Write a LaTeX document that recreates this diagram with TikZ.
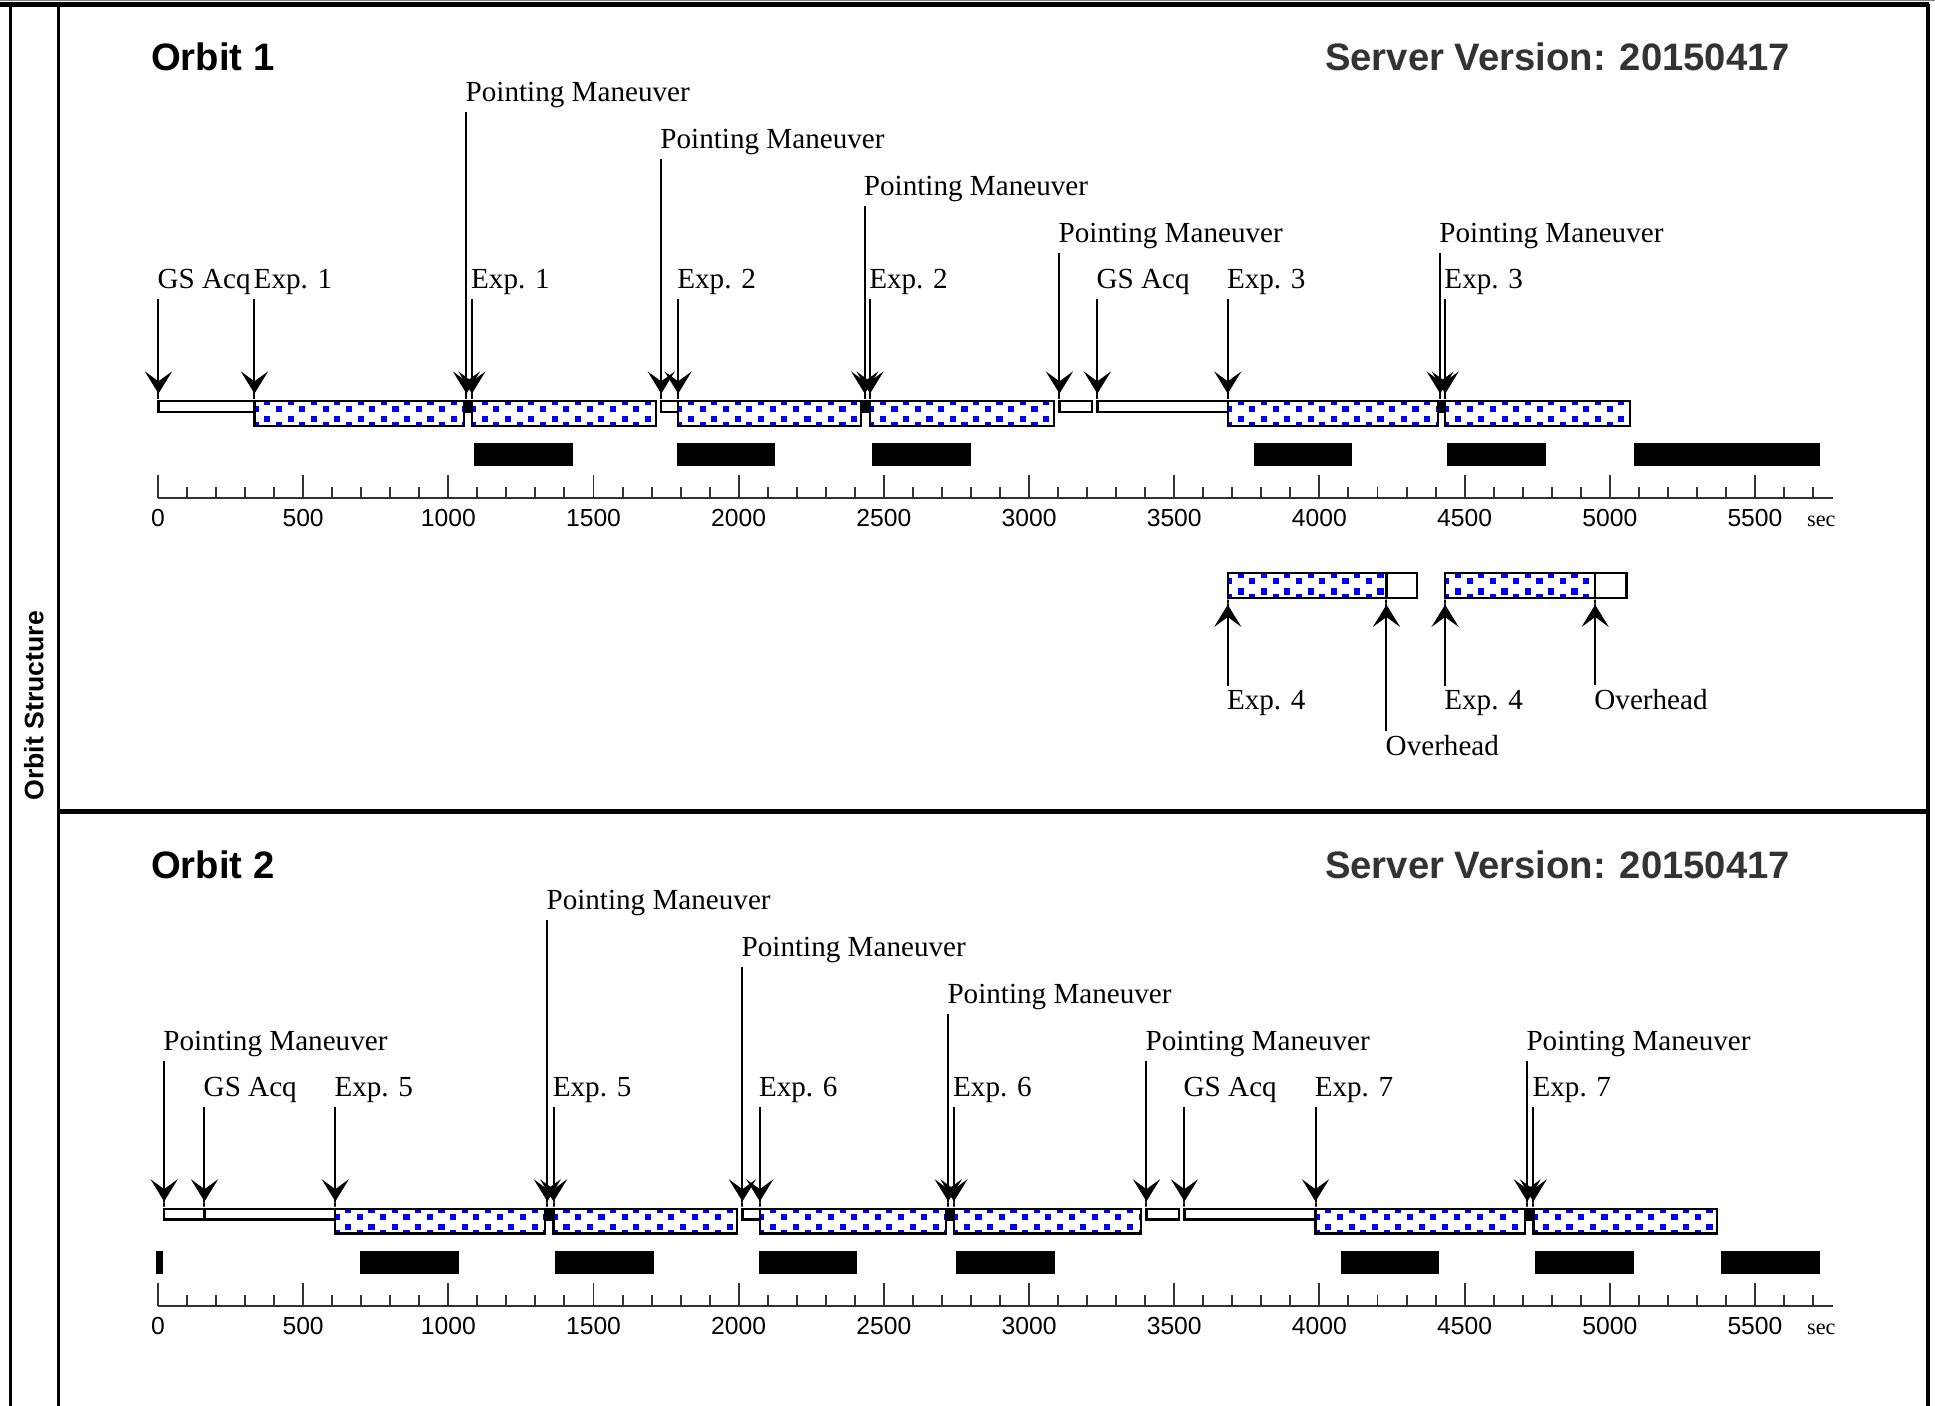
\documentclass[tikz,border=0pt]{standalone}
\usepackage{fontspec}
\setmainfont{Liberation Serif}
\setsansfont{Liberation Sans}
\usepackage{xcolor}
\usepackage{tikz}
\usetikzlibrary{arrows.meta}
\definecolor{dotblue}{HTML}{0000FF}
\definecolor{axisgray}{HTML}{333333}
\definecolor{versiongray}{HTML}{333333}

% event whose label stands above the bars
\newcommand{\evtdown}[4]{
    \node[evtlabel] (#1) at (#2-1,#3) {#4};
    \coordinate (#1-tip) at (#2,324);
    \draw[evtarrow] (#1.south west -| #1-tip) -- (#1-tip);
}
% event whose label stands below the boxes
\newcommand{\evtup}[4]{
    \node[evtlabel] (#1) at (#2-1,#3) {#4};
    \coordinate (#1-tip) at (#2,485);
    \draw[evtarrow] (#1.north west -| #1-tip) -- (#1-tip);
}
\newcommand{\expbox}[3]{
    \begin{scope}
        \clip (#1,#3) rectangle (#2,#3+20);
        \fill[white] (#1,#3) rectangle (#2,#3+20);
        \foreach \yo/\xo in {1/10.4,6.3/0.95,14.8/10.4,19.7/0.95}
            \foreach \k in {0,...,9}
                \fill[dotblue] ({#1+\xo+18.9*\k-2.5},{#3+\yo-2.5}) rectangle ++(5,5);
    \end{scope}
    \draw[barline] (#1,#3) rectangle (#2,#3+20);
}
\newcommand{\ohbox}[3]{
    \draw[barline, fill=white] (#1,#3) rectangle (#2,#3+8.6);
}
\newcommand{\slewbox}[2]{
    \fill (#1,324) rectangle (#2,334.5);
}
\newcommand{\timeaxis}[1]{
    \draw[axisline] (128,403.5) -- (1485,403.5);
    \foreach \i in {0,...,57} {
        \pgfmathsetmacro{\ttop}{mod(\i,5)==0 ? 385 : 394.5}
        \draw[axisline] ({128+23.529*\i},403.5) -- ({128+23.529*\i},\ttop);
    }
    \foreach \v in {0,500,...,5500}
        \node[ticklabel] (#1t\v) at ({128+0.23529*\v},426.8) {\v};
    \node[seclabel] (#1sec) at (1464,426.5) {sec};
}

\begin{document}
\begin{tikzpicture}[x=0.5pt,y=-0.5pt,
    evtlabel/.style={font=\fontsize{11.8}{13}\selectfont, inner xsep=0pt, inner ysep=1.6pt, anchor=base west},
    evtarrow/.style={line width=0.8pt, -{Stealth[length=9pt,width=11pt,inset=4pt,sep=0pt] Rectangle[length=2.5pt,width=0.8pt,sep=0pt]}},
    barline/.style={line width=0.95pt},
    frameline/.style={line width=1.5pt},
    axisline/.style={draw=axisgray, line width=0.8pt},
    ticklabel/.style={font=\fontsize{10}{12}\selectfont\sffamily, inner sep=0pt, anchor=base},
    seclabel/.style={font=\fontsize{9}{11}\selectfont, inner sep=0pt, anchor=base west},
    title/.style={font=\fontsize{15.5}{18}\selectfont\sffamily\bfseries, inner sep=0pt},
    sidelabel/.style={font=\fontsize{10.8}{13}\selectfont\sffamily\bfseries, inner sep=0pt, rotate=90}]
    \useasboundingbox (0,0) rectangle (1568,1139);

    % frame
    \draw[gray, line width=0.5pt] (0,0.5) -- (1568,0.5);
    \draw[frameline, line width=2pt] (0,3.6) -- (1563.5,3.6);
    \draw[frameline] (8.5,3.6) -- (8.5,1139);
    \draw[frameline] (47.5,3.6) -- (47.5,1139);
    \draw[frameline] (1562.5,3.6) -- (1562.5,1139);
    \draw[frameline, line width=2pt] (47.5,657.5) -- (1562.5,657.5);
    \node[sidelabel] (side) at (27.5,572) {Orbit Structure};

    % orbit 1
    \node[title, anchor=base west] (orbA) at (122,57.3) {Orbit 1};
    \node[title, anchor=base east, text=versiongray] (verA) at (1451,57.3) {Server Version: 20150417};

    \ohbox{128.4}{206.2}{325}
    \expbox{206.2}{376.2}{325}
    \slewbox{376.2}{382.4}
    \expbox{382.4}{531.8}{325}
    \ohbox{535.8}{549.5}{325}
    \expbox{549.5}{697.8}{325}
    \slewbox{697.8}{705}
    \expbox{705}{854}{325}
    \ohbox{858.5}{885}{325}
    \ohbox{889.2}{994.9}{325}
    \expbox{994.9}{1165.2}{325}
    \slewbox{1165.2}{1171.1}
    \expbox{1171.1}{1321}{325}

    \foreach \a/\b in {384.2/464.5,548.5/628.4,706.6/786.5,1015.8/1095.4,1172.6/1252.8,1324/1474.8}
        \fill (\a,359) rectangle (\b,377.5);

    \timeaxis{a}

    \evtdown{gsA}{128.4}{233.7}{GS Acq}
    \evtdown{expA}{206.2}{233.7}{Exp. 1}
    \evtdown{pmA}{378}{82.4}{Pointing Maneuver}
    \evtdown{expB}{382.4}{233.7}{Exp. 1}
    \evtdown{pmB}{535.8}{120.4}{Pointing Maneuver}
    \evtdown{expC}{549.5}{233.7}{Exp. 2}
    \evtdown{pmC}{700.7}{158.4}{Pointing Maneuver}
    \evtdown{expD}{705}{233.7}{Exp. 2}
    \evtdown{pmD}{858.5}{196.4}{Pointing Maneuver}
    \evtdown{gsB}{889.2}{233.7}{GS Acq}
    \evtdown{expE}{994.9}{233.7}{Exp. 3}
    \evtdown{pmE}{1167}{196.4}{Pointing Maneuver}
    \evtdown{expF}{1171.1}{233.7}{Exp. 3}

    % split exposures
    \expbox{994.9}{1123.5}{464.5}
    \draw[barline, fill=white] (1123.5,464.5) rectangle (1148,484.5);
    \expbox{1171}{1292.6}{464.5}
    \draw[barline, fill=white] (1292.6,464.5) rectangle (1318,484.5);
    \evtup{expG}{994.9}{574.8}{Exp. 4}
    \evtup{ohA}{1123.5}{612}{Overhead}
    \evtup{expH}{1171}{574.8}{Exp. 4}
    \evtup{ohB}{1292.6}{574.8}{Overhead}

    % orbit 2
    \begin{scope}[yshift=-327.3pt]
        \node[title, anchor=base west] (orbB) at (122,57.3) {Orbit 2};
        \node[title, anchor=base east, text=versiongray] (verB) at (1451,57.3) {Server Version: 20150417};

        \ohbox{133}{165.7}{325}
        \ohbox{165.7}{271.7}{325}
        \expbox{271.7}{441.4}{325}
        \slewbox{441.4}{448.6}
        \expbox{448.6}{597.3}{325}
        \ohbox{601.6}{615.7}{325}
        \expbox{615.7}{766.6}{325}
        \slewbox{766.6}{773}
        \expbox{773}{924.7}{325}
        \ohbox{929}{955.4}{325}
        \ohbox{959.8}{1066}{325}
        \expbox{1066}{1235.6}{325}
        \slewbox{1235.6}{1242.5}
        \expbox{1242.5}{1391.4}{325}

        \foreach \a/\b in {126.5/132,291.6/371.9,449.7/530,615/694.5,774.6/855,1086.3/1165.7,1243.8/1324,1394.7/1474.4}
            \fill (\a,359) rectangle (\b,377.5);

        \timeaxis{b}

        \evtdown{pmF}{133}{196.4}{Pointing Maneuver}
        \evtdown{gsC}{165.7}{233.7}{GS Acq}
        \evtdown{expI}{271.7}{233.7}{Exp. 5}
        \evtdown{pmG}{443.5}{82.4}{Pointing Maneuver}
        \evtdown{expJ}{448.6}{233.7}{Exp. 5}
        \evtdown{pmH}{601.6}{120.4}{Pointing Maneuver}
        \evtdown{expK}{615.7}{233.7}{Exp. 6}
        \evtdown{pmI}{768.4}{158.4}{Pointing Maneuver}
        \evtdown{expL}{773}{233.7}{Exp. 6}
        \evtdown{pmJ}{929}{196.4}{Pointing Maneuver}
        \evtdown{gsD}{959.8}{233.7}{GS Acq}
        \evtdown{expM}{1066}{233.7}{Exp. 7}
        \evtdown{pmK}{1237.6}{196.4}{Pointing Maneuver}
        \evtdown{expN}{1242.5}{233.7}{Exp. 7}
    \end{scope}
\end{tikzpicture}
\end{document}
